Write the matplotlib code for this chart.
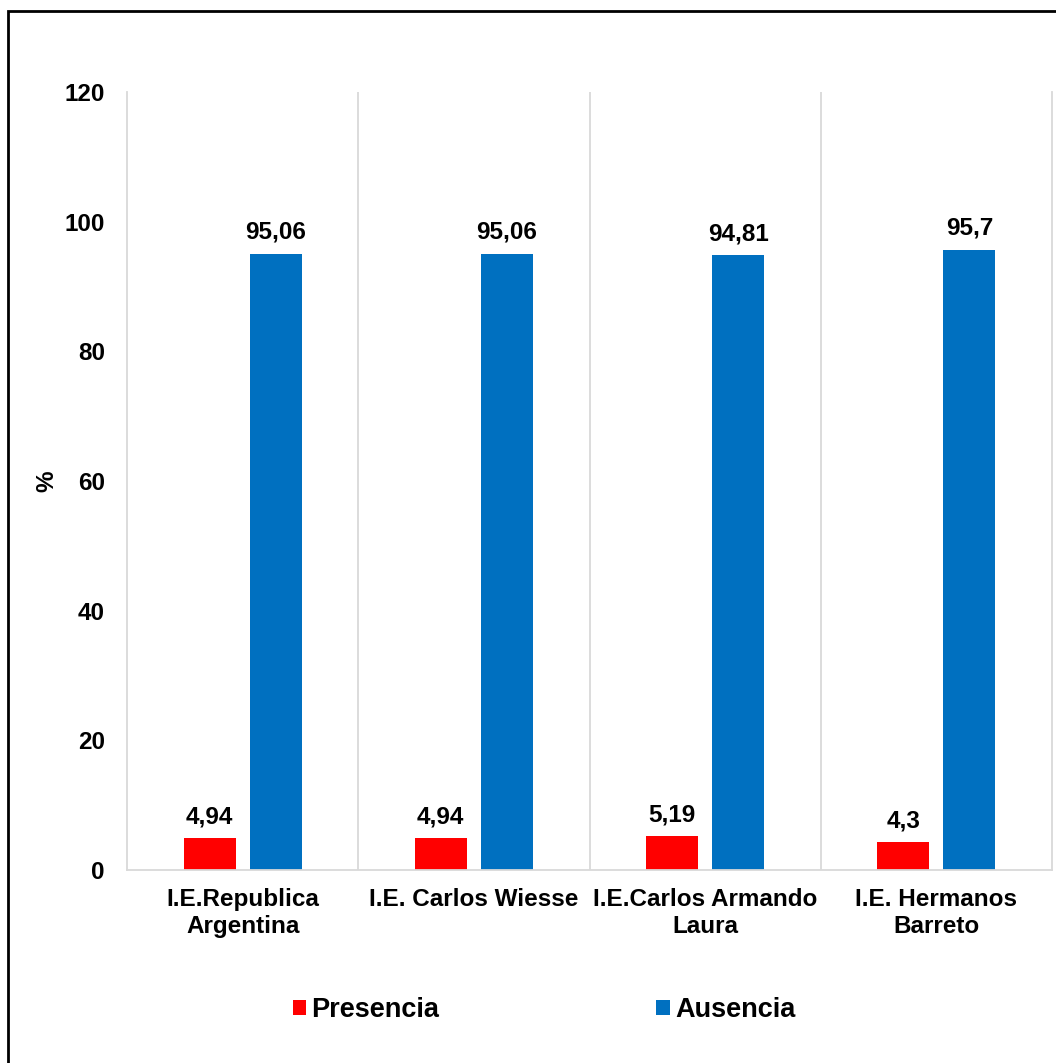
import numpy as np
import matplotlib
matplotlib.use('Agg')
import matplotlib.pyplot as plt
from matplotlib.patches import Rectangle

plt.rcParams['font.family'] = ['Liberation Sans', 'DejaVu Sans']
plt.rcParams['font.weight'] = 'bold'

categorias = ['I.E.Republica\nArgentina', 'I.E. Carlos Wiesse', 'I.E.Carlos Armando\nLaura', 'I.E. Hermanos\nBarreto']
presencia = [4.94, 4.94, 5.19, 4.3]
ausencia = [95.06, 95.06, 94.81, 95.7]
etiq_pres = ['4,94', '4,94', '5,19', '4,3']
etiq_aus = ['95,06', '95,06', '94,81', '95,7']

rojo = '#ff0000'
azul = '#0070c0'
gris = '#d9d9d9'
fs = 17.5

fig = plt.figure(figsize=(10.56, 10.63), dpi=100)
ax = fig.add_axes([127/1056, 1-870/1063, (1052-127)/1056, (870-92)/1063])

x = np.arange(len(categorias))
w = 0.225
off = 0.143
b1 = ax.bar(x - off, presencia, w, color=rojo, label='Presencia')
b2 = ax.bar(x + off, ausencia, w, color=azul, label='Ausencia')

for rect, t in zip(b1, etiq_pres):
    ax.annotate(t, (rect.get_x() + rect.get_width()/2, rect.get_height()),
                xytext=(0, 7), textcoords='offset points', ha='center', va='bottom',
                fontsize=fs, fontweight='bold')
for rect, t in zip(b2, etiq_aus):
    ax.annotate(t, (rect.get_x() + rect.get_width()/2, rect.get_height()),
                xytext=(0, 7), textcoords='offset points', ha='center', va='bottom',
                fontsize=fs, fontweight='bold')

ax.set_xlim(-0.5, len(categorias) - 0.5)
ax.set_ylim(0, 120)
ax.set_yticks(range(0, 121, 20))
ax.set_xticks(x)
ax.set_xticklabels(categorias, fontsize=fs, fontweight='bold', linespacing=1.2)
ax.tick_params(axis='x', length=0, pad=13)
ax.tick_params(axis='y', length=0, pad=16, labelsize=fs)
for lbl in ax.get_yticklabels():
    lbl.set_fontweight('bold')

# lineas verticales entre categorias
for b in np.arange(0.5, len(categorias) - 1, 1.0):
    ax.axvline(b, color=gris, lw=1.3, zorder=0)
for s in ['left', 'right', 'bottom']:
    ax.spines[s].set_color(gris)
    ax.spines[s].set_linewidth(1.3)
ax.spines['top'].set_visible(False)

ax.set_ylabel('%', fontsize=fs, fontweight='bold')
ax.yaxis.set_label_coords(-0.0746, 0.5)

fig.legend(handles=[b1, b2], loc='center', bbox_to_anchor=(544/1056, 1-1010/1063),
           ncol=2, frameon=False, prop={'size': 19.5, 'weight': 'bold'},
           handlelength=0.5, handleheight=0.5, handletextpad=0.2, columnspacing=8.0)

# marco exterior
fig.patches.append(Rectangle((8/1056, -0.05), 1.1, 1-11/1063 + 0.05, transform=fig.transFigure,
                             fill=False, edgecolor='black', lw=2, clip_on=False))

plt.savefig('out.png', dpi=100)
